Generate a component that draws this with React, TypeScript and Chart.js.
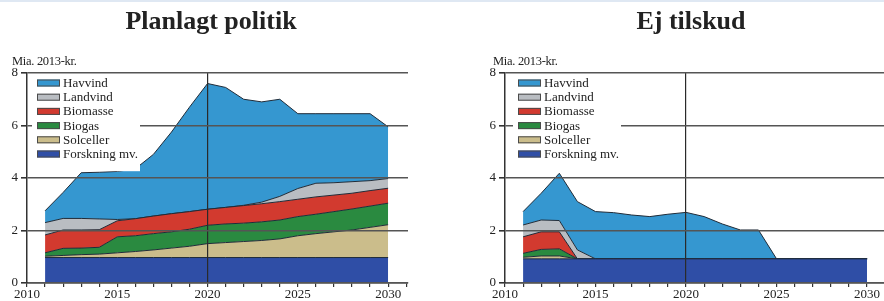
import React, { useEffect, useRef } from 'react';
import { Chart, registerables } from 'chart.js';

Chart.register(...registerables);

const FONT = '"Liberation Serif", "Times New Roman", serif';

// ---------- data ----------
const years = [2011, 2012, 2013, 2014, 2015, 2016, 2017, 2018, 2019, 2020, 2021, 2022, 2023, 2024, 2025, 2026, 2027, 2028, 2029, 2030];
const xTickYears = [2010, 2015, 2020, 2025, 2030];
const yTicks = [0, 2, 4, 6, 8];

// stacking order bottom -> top
const seriesLabels = ['Forskning mv.', 'Solceller', 'Biogas', 'Biomasse', 'Landvind', 'Havvind'];
const seriesColors = ['#2f4ea6', '#cbbd8b', '#2a8a40', '#d23a2f', '#b9bdc2', '#3597d0'];

const panelTitles = ['Planlagt politik', 'Ej tilskud'];
const unitLabel = 'Mia. 2013-kr.';

// Planlagt politik (bn DKK, 2013 prices)
const planForskning = [0.97, 0.97, 0.97, 0.97, 0.97, 0.97, 0.97, 0.97, 0.97, 0.97, 0.97, 0.97, 0.97, 0.97, 0.97, 0.97, 0.97, 0.97, 0.97, 0.97];
const planSolceller = [0.05, 0.08, 0.11, 0.13, 0.18, 0.23, 0.29, 0.36, 0.43, 0.53, 0.57, 0.61, 0.65, 0.71, 0.83, 0.91, 0.98, 1.05, 1.15, 1.25];
const planBiogas = [0.13, 0.27, 0.25, 0.26, 0.61, 0.6, 0.62, 0.62, 0.65, 0.7, 0.71, 0.7, 0.71, 0.72, 0.73, 0.74, 0.77, 0.8, 0.81, 0.82];
const planBiomasse = [0.68, 0.7, 0.69, 0.67, 0.61, 0.65, 0.67, 0.69, 0.67, 0.61, 0.63, 0.67, 0.69, 0.7, 0.66, 0.66, 0.63, 0.6, 0.59, 0.57];
const planLandvind = [0.47, 0.44, 0.44, 0.41, 0.05, 0, 0, 0, 0, 0, 0, 0.01, 0.06, 0.2, 0.41, 0.52, 0.47, 0.44, 0.38, 0.37];
const planHavvind = [0.45, 0.99, 1.74, 1.78, 1.83, 1.9, 2.35, 3.11, 3.98, 4.79, 4.57, 4.04, 3.82, 3.7, 2.85, 2.65, 2.63, 2.59, 2.55, 1.97];

// Ej tilskud
const ejForskning = [0.92, 0.92, 0.92, 0.92, 0.92, 0.92, 0.92, 0.92, 0.92, 0.92, 0.92, 0.92, 0.92, 0.92, 0.92, 0.92, 0.92, 0.92, 0.92, 0.92];
const ejSolceller = [0.06, 0.11, 0.11, 0, 0, 0, 0, 0, 0, 0, 0, 0, 0, 0, 0, 0, 0, 0, 0, 0];
const ejBiogas = [0.15, 0.25, 0.27, 0, 0, 0, 0, 0, 0, 0, 0, 0, 0, 0, 0, 0, 0, 0, 0, 0];
const ejBiomasse = [0.63, 0.67, 0.65, 0, 0, 0, 0, 0, 0, 0, 0, 0, 0, 0, 0, 0, 0, 0, 0, 0];
const ejLandvind = [0.45, 0.45, 0.43, 0.34, 0, 0, 0, 0, 0, 0, 0, 0, 0, 0, 0, 0, 0, 0, 0, 0];
const ejHavvind = [0.51, 1.02, 1.8, 1.84, 1.8, 1.76, 1.67, 1.61, 1.7, 1.77, 1.61, 1.33, 1.1, 1.1, 0, 0, 0, 0, 0, 0];

const planSeries = [planForskning, planSolceller, planBiogas, planBiomasse, planLandvind, planHavvind];
const ejSeries = [ejForskning, ejSolceller, ejBiogas, ejBiomasse, ejLandvind, ejHavvind];

// ---------- legend inside the plot ----------
const insideLegend = {
  id: 'insideLegend',
  afterDraw(chart: any, _args: any, opts: any) {
    const ctx = chart.ctx;
    const ds = chart.data.datasets.slice().reverse();
    ctx.save();
    ctx.fillStyle = '#ffffff';
    ctx.fillRect(opts.x - 5, chart.chartArea.top + 3, 108, opts.y - chart.chartArea.top + ds.length * opts.step);
    ds.forEach((d: any, i: number) => {
      const y = opts.y + i * opts.step;
      ctx.fillStyle = d.backgroundColor;
      ctx.fillRect(opts.x, y - 3.5, 23, 7);
      ctx.strokeStyle = '#4a4a4a';
      ctx.lineWidth = 1;
      ctx.strokeRect(opts.x + 0.5, y - 3, 22, 6);
      ctx.fillStyle = '#222';
      ctx.font = '13px ' + FONT;
      ctx.textBaseline = 'middle';
      ctx.textAlign = 'left';
      ctx.fillText(d.label, opts.x + 26, y + 0.5);
    });
    ctx.restore();
  },
};

type PanelProps = {
  series: number[][];
  left: number;
  width: number;
  yAxisWidth: number;
  padRight: number;
  legendX: number;
};

function Panel({ series, left, width, yAxisWidth, padRight, legendX }: PanelProps) {
  const ref = useRef<HTMLCanvasElement | null>(null);
  useEffect(() => {
    if (!ref.current) return;
    const datasets = series.map((vals, i) => ({
      label: seriesLabels[i],
      data: years.map((x, j) => ({ x, y: vals[j] })),
      backgroundColor: seriesColors[i],
      borderColor: '#1f2b38',
      borderWidth: 1,
      pointRadius: 0,
      tension: 0,
      fill: i === 0 ? 'origin' : '-1',
    }));
    const chart = new Chart(ref.current, {
      type: 'line',
      data: { datasets },
      plugins: [insideLegend],
      options: {
        animation: false,
        responsive: false,
        maintainAspectRatio: false,
        layout: { padding: { top: 73, bottom: 1, left: 0, right: padRight } },
        plugins: {
          legend: { display: false },
          tooltip: { enabled: false },
          insideLegend: { x: legendX, y: 83, step: 14.2 },
        } as any,
        scales: {
          x: {
            type: 'linear',
            min: 2010,
            max: 2031.1,
            afterFit: (s: any) => { s.height = 17; },
            border: { display: true, color: '#333', width: 1.5, z: 1 },
            grid: {
              z: 1,
              color: (c: any) => (c.tick && c.tick.value === 2020 ? '#2a2a2a' : 'rgba(0,0,0,0)'),
              lineWidth: 1.2,
              tickColor: '#333',
              tickLength: 4,
              drawTicks: true,
            },
            ticks: {
              stepSize: 1,
              autoSkip: false,
              includeBounds: false,
              maxRotation: 0,
              padding: 0,
              color: '#222',
              font: { family: FONT, size: 13 },
              callback: (v: any) => (xTickYears.includes(Number(v)) ? String(v) : ''),
            },
          },
          y: {
            stacked: true,
            min: 0,
            max: 8,
            afterFit: (s: any) => { s.width = yAxisWidth; },
            border: { display: true, color: '#333', width: 1.5, z: 1 },
            grid: {
              z: 1,
              color: '#555',
              lineWidth: 1.6,
              tickColor: '#333',
              tickLength: 6,
            },
            ticks: {
              stepSize: 2,
              padding: 3,
              color: '#222',
              font: { family: FONT, size: 13 },
              callback: (v: any) => (yTicks.includes(Number(v)) ? String(v) : ''),
            },
          },
        },
      } as any,
    });
    return () => chart.destroy();
  }, []);
  return (
    <canvas
      ref={ref}
      width={width}
      height={301}
      style={{ position: 'absolute', left, top: 0, width, height: 301 }}
    />
  );
}

export default function App() {
  const titleStyle: React.CSSProperties = {
    position: 'absolute',
    top: 8,
    width: 400,
    textAlign: 'center',
    fontFamily: FONT,
    fontWeight: 'bold',
    fontSize: 26,
    lineHeight: '25px',
    color: '#222',
    whiteSpace: 'nowrap',
  };
  const unitStyle: React.CSSProperties = {
    position: 'absolute',
    top: 55,
    fontFamily: FONT,
    fontSize: 12.5,
    lineHeight: '13px',
    color: '#222',
    letterSpacing: '-0.3px',
    whiteSpace: 'nowrap',
  };
  return (
    <div
      style={{
        position: 'absolute',
        left: 0,
        top: 0,
        width: 884,
        height: 301,
        overflow: 'hidden',
        background: '#fff',
      }}
    >
      <div style={{ position: 'absolute', left: 0, top: 0, width: 884, height: 2, background: '#dfe8f3' }} />
      <Panel series={planSeries} left={0} width={440} yAxisWidth={27} padRight={32} legendX={37} />
      <Panel series={ejSeries} left={440} width={448} yAxisWidth={65} padRight={1} legendX={78} />
      <div style={{ ...titleStyle, left: 11 }}>{panelTitles[0]}</div>
      <div style={{ ...titleStyle, left: 491 }}>{panelTitles[1]}</div>
      <div style={{ ...unitStyle, left: 12 }}>{unitLabel}</div>
      <div style={{ ...unitStyle, left: 493 }}>{unitLabel}</div>
    </div>
  );
}
